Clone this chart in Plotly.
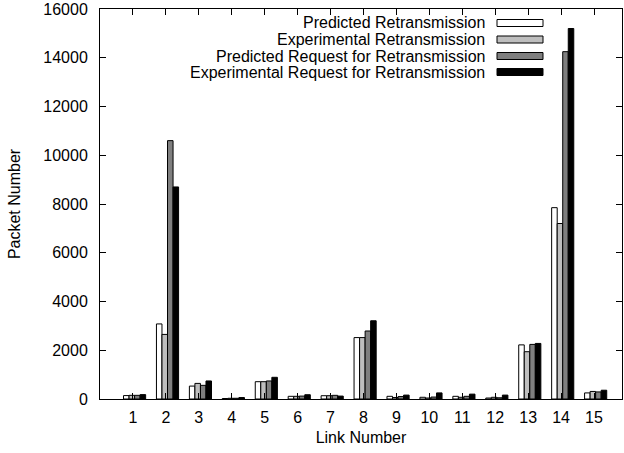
import plotly.graph_objects as go

links = list(range(1, 16))
tick_labels = [str(i) for i in links]
series_names = [
    "Predicted Retransmission",
    "Experimental Retransmission",
    "Predicted Request for Retransmission",
    "Experimental Request for Retransmission",
]
pred_retx = [140, 3080, 530, 20, 710, 110, 135, 2520, 110, 70, 110, 40, 2220, 7850, 250]
exp_retx = [150, 2650, 640, 30, 710, 110, 135, 2520, 60, 40, 70, 70, 1940, 7200, 310]
pred_req = [150, 10600, 560, 30, 740, 120, 150, 2790, 100, 80, 110, 50, 2240, 14250, 290]
exp_req = [180, 8700, 740, 60, 890, 175, 120, 3210, 160, 250, 200, 160, 2280, 15200, 360]
y_ticks = [0, 2000, 4000, 6000, 8000, 10000, 12000, 14000, 16000]
y_tick_labels = [str(v) for v in y_ticks]

colors = ["#ffffff", "#bebebe", "#7f7f7f", "#000000"]
series = [pred_retx, exp_retx, pred_req, exp_req]

FONT = "Liberation Sans, Arial, Helvetica, sans-serif"
FS = 16
bw = 0.168
fig = go.Figure()
for j, (name, vals, col) in enumerate(zip(series_names, series, colors)):
    fig.add_trace(go.Bar(
        x=links, y=vals, name=name, width=bw,
        offset=-2 * bw + j * bw + 0.05,
        marker=dict(color=col, line=dict(color="black", width=1)),
        showlegend=False,
    ))

# plot area in page pixels (body margin removed by post_script)
L, R, T, B = 100, 622, 9, 399
def px(x):
    return (x - L) / (R - L)
def py(y):
    return (B - y) / (B - T)

# gnuplot-style legend: right-aligned text with sample box on the right
rows = [23, 39.5, 56, 72]
for name, col, yc in zip(series_names, colors, rows):
    fig.add_annotation(x=px(486), y=py(yc), xref="paper", yref="paper",
                       text=name, showarrow=False, xanchor="right", yanchor="middle",
                       font=dict(family=FONT, size=FS, color="black"),
                       borderpad=0)
    fig.add_shape(type="rect", xref="paper", yref="paper",
                  x0=px(497), x1=px(543), y0=py(yc - 3.5), y1=py(yc + 3.5),
                  fillcolor=col, line=dict(color="black", width=1))

fig.update_layout(
    width=624, height=453,
    margin=dict(l=L, r=624 - R, t=T, b=453 - B, autoexpand=False),
    plot_bgcolor="white", paper_bgcolor="white",
    barmode="overlay",
    font=dict(family=FONT, size=FS, color="black"),
    xaxis=dict(range=[0, 15.85], tickvals=links, ticktext=tick_labels,
               ticks="inside", ticklen=6, tickcolor="black",
               showline=True, linecolor="black", linewidth=1, mirror="ticks",
               showgrid=False, zeroline=False, automargin=False,
               ticklabelstandoff=4,
               title=dict(text="Link Number", standoff=6,
                          font=dict(family=FONT, size=FS)),
               tickfont=dict(family=FONT, size=FS)),
    yaxis=dict(range=[0, 16000], tickvals=y_ticks, ticktext=y_tick_labels,
               ticks="inside", ticklen=6, tickcolor="black",
               showline=True, linecolor="black", linewidth=1, mirror="ticks",
               showgrid=False, zeroline=False, automargin=False,
               ticklabelstandoff=8,
               title=dict(text="Packet Number", standoff=18,
                          font=dict(family=FONT, size=FS)),
               tickfont=dict(family=FONT, size=FS)),
)
fig.write_html("out.html", config={"displayModeBar": False},
               post_script="document.body.style.margin='0';")
